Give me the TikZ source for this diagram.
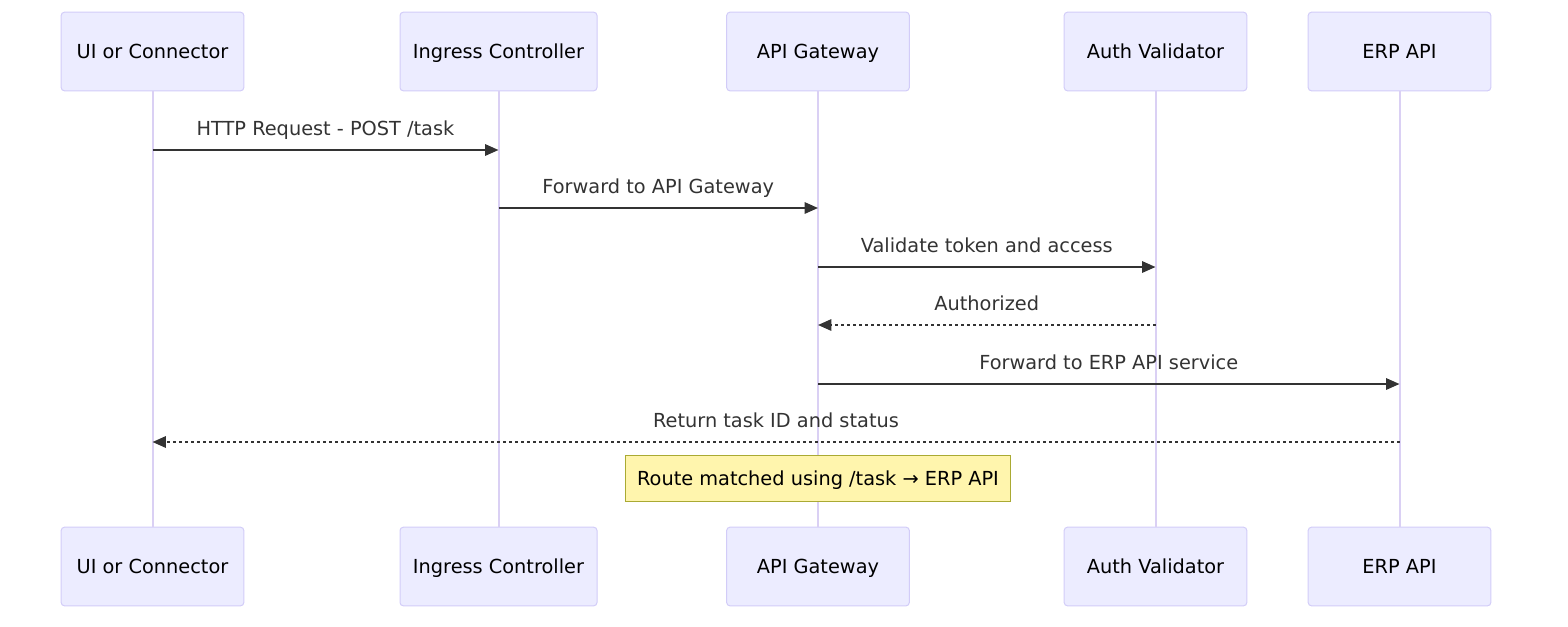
\documentclass[tikz,border=0pt]{standalone}
\usepackage{fontspec}
\setmainfont{DejaVu Sans}
\usetikzlibrary{arrows.meta,positioning}
\definecolor{actfill}{RGB}{236,236,255}
\definecolor{actdraw}{RGB}{210,204,248}
\definecolor{lifeline}{RGB}{218,208,244}
\definecolor{msgcol}{RGB}{51,51,51}
\definecolor{notefill}{RGB}{255,245,173}
\definecolor{notedraw}{RGB}{170,170,51}
\tikzstyle{actornode} = [rectangle, rounded corners=2.5pt, minimum width=137pt, minimum height=59pt, text centered, text height=12pt, text depth=1.5pt, draw=actdraw, fill=actfill, line width=0.75pt, font=\fontsize{14.5}{17}\selectfont]
\tikzstyle{lifelinepath} = [draw=lifeline, line width=1.5pt]
\tikzstyle{msg} = [draw=msgcol, line width=1.4pt, -{Triangle[length=10pt,width=8.5pt]}]
\tikzstyle{reply} = [msg, dash pattern=on 2.25pt off 2.25pt]
\tikzstyle{msglabel} = [text=msgcol, anchor=base, yshift=11.25pt, font=\fontsize{14.5}{17}\selectfont]
\tikzstyle{notenode} = [rectangle, minimum width=289pt, minimum height=35pt, text height=12pt, text depth=2pt, draw=notedraw, fill=notefill, line width=0.75pt, font=\fontsize{14.5}{17}\selectfont]
\begin{document}
\begin{tikzpicture}[x=0.75pt, y=-0.75pt]
\useasboundingbox (0,0) rectangle (1568,626);
% actors, top and bottom
\node[actornode] (ui) at (152.5,51.5) {UI or Connector};
\node[actornode, minimum width=147.75pt] (ing) at (498.5,51.5) {Ingress Controller};
\node[actornode] (gw) at (818,51.5) {API Gateway};
\node[actornode] (auth) at (1155.5,51.5) {Auth Validator};
\node[actornode] (erp) at (1399.5,51.5) {ERP API};
\node[actornode] (uib) at (152.5,566.5) {UI or Connector};
\node[actornode, minimum width=147.75pt] (ingb) at (498.5,566.5) {Ingress Controller};
\node[actornode] (gwb) at (818,566.5) {API Gateway};
\node[actornode] (authb) at (1155.5,566.5) {Auth Validator};
\node[actornode] (erpb) at (1399.5,566.5) {ERP API};

% lifelines
\draw[lifelinepath] (ui) -- (uib);
\draw[lifelinepath] (ing) -- (ingb);
\draw[lifelinepath] (gw) -- (gwb);
\draw[lifelinepath] (auth) -- (authb);
\draw[lifelinepath] (erp) -- (erpb);

% message points
\coordinate (ui1) at (152.5,150);
\coordinate (ing1) at (498.5,150);
\coordinate (ing2) at (498.5,208);
\coordinate (gw2) at (818,208);
\coordinate (gw3) at (818,267);
\coordinate (auth3) at (1155.5,267);
\coordinate (auth4) at (1155.5,325);
\coordinate (gw4) at (818,325);
\coordinate (gw5) at (818,384);
\coordinate (erp5) at (1399.5,384);
\coordinate (erp6) at (1399.5,442);
\coordinate (ui6) at (152.5,442);

\draw[msg] (ui1) -- node[msglabel] {HTTP Request - POST /task} (ing1);
\draw[msg] (ing2) -- node[msglabel] {Forward to API Gateway} (gw2);
\draw[msg] (gw3) -- node[msglabel] {Validate token and access} (auth3);
\draw[reply] (auth4) -- node[msglabel] {Authorized} (gw4);
\draw[msg] (gw5) -- node[msglabel] {Forward to ERP API service} (erp5);
\draw[reply] (erp6) -- node[msglabel] {Return task ID and status} (ui6);

\node[notenode] (note) at (818,478.5) {Route matched using /task → ERP API};
\end{tikzpicture}
\end{document}
